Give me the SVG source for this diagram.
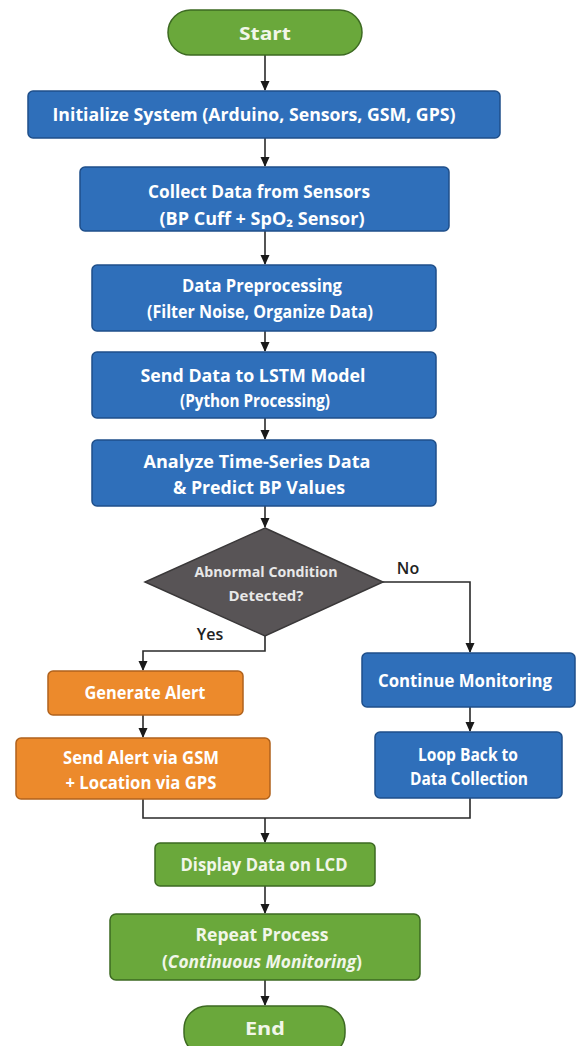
<svg xmlns="http://www.w3.org/2000/svg" width="578" height="1046" viewBox="0 0 578 1046">
<defs>
<marker id="ah" viewBox="0 0 10 10" refX="9" refY="5" markerWidth="10" markerHeight="10" markerUnits="userSpaceOnUse" orient="auto">
<path d="M0,0.5 L10,5 L0,9.5 z" fill="#1a1a1a"/>
</marker>
<style>
.blue{fill:#2f6fba;stroke:#1f4f8a;stroke-width:1.5}
.green{fill:#6aa83b;stroke:#3d6a22;stroke-width:1.5}
.orange{fill:#ec8a2c;stroke:#b0621c;stroke-width:1.5}
.dia{fill:#585456;stroke:#3a3839;stroke-width:1.5}
.t{font-family:"Open Sans","Noto Sans",sans-serif;font-weight:700;fill:#ffffff;text-anchor:middle;font-size:17px}
.tg{fill:#f1f6e9}
.td{fill:#e8e8e8;font-size:15px}
.lbl{font-family:"Open Sans","Noto Sans",sans-serif;font-weight:600;fill:#222;font-size:16px;text-anchor:middle}
.c{fill:none;stroke:#2a2a2a;stroke-width:1.6}
</style>
</defs>
<rect width="578" height="1046" fill="#ffffff"/>
<g id="connectors">
<path class="c" d="M265,55 V90" marker-end="url(#ah)"/>
<path class="c" d="M265,138 V166" marker-end="url(#ah)"/>
<path class="c" d="M265,231 V264" marker-end="url(#ah)"/>
<path class="c" d="M265,331 V351" marker-end="url(#ah)"/>
<path class="c" d="M265,418 V439" marker-end="url(#ah)"/>
<path class="c" d="M265,506 V527" marker-end="url(#ah)"/>
<path class="c" d="M265,636 V651 H143 V670" marker-end="url(#ah)"/>
<path class="c" d="M383,582 H470 V652" marker-end="url(#ah)"/>
<path class="c" d="M143,715 V737" marker-end="url(#ah)"/>
<path class="c" d="M470,707 V731" marker-end="url(#ah)"/>
<path class="c" d="M143,799 V818 H470 V798"/>
<path class="c" d="M265,818 V842" marker-end="url(#ah)"/>
<path class="c" d="M265,886 V913" marker-end="url(#ah)"/>
<path class="c" d="M265,980 V1005" marker-end="url(#ah)"/>
<text class="lbl" x="408" y="574">No</text>
<text class="lbl" x="210" y="640">Yes</text>
</g>
<g id="start">
<rect class="green" x="168" y="10" width="194" height="45" rx="22.5"/>
<text class="t tg" x="265" y="40" font-size="21" textLength="52" lengthAdjust="spacingAndGlyphs">Start</text>
</g>
<g id="init">
<rect class="blue" x="28" y="91" width="472" height="47" rx="5"/>
<text class="t" x="254" y="121" textLength="403" lengthAdjust="spacingAndGlyphs">Initialize System (Arduino, Sensors, GSM, GPS)</text>
</g>
<g id="collect">
<rect class="blue" x="80" y="167" width="369" height="64" rx="5"/>
<text class="t" x="259" y="198" textLength="222" lengthAdjust="spacingAndGlyphs">Collect Data from Sensors</text>
<text class="t" x="262" y="225" textLength="205" lengthAdjust="spacingAndGlyphs">(BP Cuff + SpO₂ Sensor)</text>
</g>
<g id="preprocess">
<rect class="blue" x="92" y="265" width="344" height="66" rx="5"/>
<text class="t" x="262" y="292" textLength="160" lengthAdjust="spacingAndGlyphs">Data Preprocessing</text>
<text class="t" x="260" y="318" textLength="226" lengthAdjust="spacingAndGlyphs">(Filter Noise, Organize Data)</text>
</g>
<g id="lstm">
<rect class="blue" x="92" y="352" width="344" height="66" rx="5"/>
<text class="t" x="253" y="382" textLength="225" lengthAdjust="spacingAndGlyphs">Send Data to LSTM Model</text>
<text class="t" x="255" y="407" font-size="15" textLength="150" lengthAdjust="spacingAndGlyphs">(Python Processing)</text>
</g>
<g id="analyze">
<rect class="blue" x="92" y="440" width="344" height="66" rx="5"/>
<text class="t" x="257" y="468" textLength="227" lengthAdjust="spacingAndGlyphs">Analyze Time-Series Data</text>
<text class="t" x="259" y="494" textLength="172" lengthAdjust="spacingAndGlyphs">&amp; Predict BP Values</text>
</g>
<g id="decision">
<polygon class="dia" points="265,528 383,582 265,636 145,582"/>
<text class="t td" x="266" y="577" textLength="143" lengthAdjust="spacingAndGlyphs">Abnormal Condition</text>
<text class="t td" x="266" y="601" textLength="75" lengthAdjust="spacingAndGlyphs">Detected?</text>
</g>
<g id="generate">
<rect class="orange" x="48" y="671" width="195" height="44" rx="5"/>
<text class="t" x="145" y="699" textLength="121" lengthAdjust="spacingAndGlyphs">Generate Alert</text>
</g>
<g id="sendalert">
<rect class="orange" x="16" y="738" width="254" height="61" rx="5"/>
<text class="t" x="141" y="764" textLength="156" lengthAdjust="spacingAndGlyphs">Send Alert via GSM</text>
<text class="t" x="141" y="789" textLength="151" lengthAdjust="spacingAndGlyphs">+ Location via GPS</text>
</g>
<g id="continue">
<rect class="blue" x="362" y="653" width="213" height="54" rx="5"/>
<text class="t" x="465" y="687" textLength="174" lengthAdjust="spacingAndGlyphs">Continue Monitoring</text>
</g>
<g id="loop">
<rect class="blue" x="375" y="732" width="187" height="66" rx="5"/>
<text class="t" x="468" y="761" textLength="100" lengthAdjust="spacingAndGlyphs">Loop Back to</text>
<text class="t" x="469" y="785" textLength="118" lengthAdjust="spacingAndGlyphs">Data Collection</text>
</g>
<g id="display">
<rect class="green" x="155" y="843" width="220" height="43" rx="5"/>
<text class="t tg" x="264" y="871" textLength="167" lengthAdjust="spacingAndGlyphs">Display Data on LCD</text>
</g>
<g id="repeat">
<rect class="green" x="110" y="914" width="310" height="66" rx="6"/>
<text class="t tg" x="262" y="941" textLength="133" lengthAdjust="spacingAndGlyphs">Repeat Process</text>
<text class="t tg" x="262" y="968" textLength="200" lengthAdjust="spacingAndGlyphs">(<tspan font-style="italic">Continuous Monitoring</tspan>)</text>
</g>
<g id="end">
<rect class="green" x="184" y="1006" width="161" height="50" rx="23"/>
<text class="t tg" x="265" y="1035" font-size="21" textLength="40" lengthAdjust="spacingAndGlyphs">End</text>
</g>
</svg>
